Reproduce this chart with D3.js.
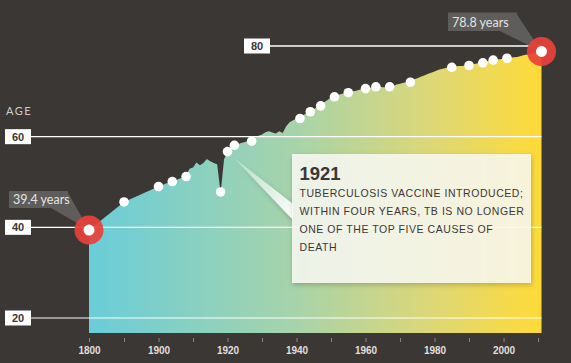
<!DOCTYPE html>
<html><head><meta charset="utf-8">
<script src="https://cdn.jsdelivr.net/npm/d3@7"></script>
<style>html,body{margin:0;padding:0;background:#3b3735;}svg{display:block;}</style>
</head><body>
<svg id="chart" width="571" height="363"></svg>
<script>
// ---- data ----
const lifeYears = [1800,1890,1900,1901,1902,1903,1904,1905,1906,1907,1908,1909,
  1910,1911,1912,1913,1914,1915,1916,1917,1918,1919,
  1920,1921,1922,1923,1924,1925,1926,1927,1928,1929,
  1930,1931,1932,1933,1934,1935,1936,1937,1938,1939,
  1940,1941,1942,1943,1944,1945,1946,1947,1948,1949,
  1950,1951,1952,1953,1954,1955,1956,1957,1958,1959,
  1960,1961,1962,1963,1964,1965,1966,1967,1968,1969,
  1970,1971,1972,1973,1974,1975,1976,1977,1978,1979,
  1980,1981,1982,1983,1984,1985,1986,1987,1988,1989,
  1990,1991,1992,1993,1994,1995,1996,1997,1998,1999,
  2000,2001,2002,2003,2004,2005,2006,2007,2008,2009,
  2010,2011];
const lifeAges = [39.4,45.6,49.0,49.3,49.6,49.9,50.1,50.4,50.7,51.0,51.5,52.9,
  53.2,54.3,53.7,54.2,55.1,54.6,54.2,53.9,47.6,55.0,
  56.7,57.4,58.1,58.3,58.6,58.8,59.0,59.2,59.9,60.2,
  60.5,61.0,61.2,60.9,60.7,61.2,60.8,62.3,63.2,63.6,
  64.0,64.3,64.8,65.2,65.6,66.0,66.6,67.1,67.6,68.1,
  68.7,69.0,69.2,69.4,69.6,69.8,70.0,70.1,70.3,70.5,
  70.6,70.8,70.8,70.9,71.0,70.9,70.9,71.0,71.2,71.5,
  71.7,71.9,72.0,72.3,72.6,72.9,73.2,73.5,73.8,74.1,
  74.4,74.7,74.9,75.1,75.3,75.4,75.5,75.6,75.6,75.7,
  75.8,75.9,76.1,76.3,76.4,76.6,76.8,76.9,77.0,77.1,
  77.2,77.3,77.4,77.5,77.6,77.8,78.0,78.1,78.3,78.5,
  78.7,78.8];

const eventYears = [1890,1900,1904,1908,1918,1920,1922,1927,1941,1944,1947,1951,1955,1960,1963,1967,1973,1985,1990,1994,1997,2001];
const eventAges  = [45.6,49.0,50.1,51.2,47.8,56.7,58.1,59.0,64.0,65.5,66.8,68.8,69.7,70.6,71.0,71.0,72.0,75.3,75.7,76.3,76.9,77.3];

const highlightYears = [1800, 2011];
const highlightAges  = [39.4, 78.8];
const highlightLabels = ["39.4 years", "78.8 years"];

const ageTicks = [20, 40, 60, 80];
const yearTicks = [1800,1890,1900,1910,1920,1930,1940,1950,1960,1970,1980,1990,2000,2010];
const yearLabels = [1800,1900,1920,1940,1960,1980,2000];

const noteTitle = "1921";
const noteLines = ["TUBERCULOSIS VACCINE INTRODUCED;","WITHIN FOUR YEARS, TB IS NO LONGER","ONE OF THE TOP FIVE CAUSES OF","DEATH"];
const noteYear = 1922;
const noteAge = 58.1;

// ---- drawing ----
const svg = d3.select("#chart");
const W = 571, H = 363;
svg.append("rect").attr("width", W).attr("height", H).attr("fill", "#3b3735");

const x = d3.scaleLinear().domain([1800, 1890, 2011]).range([89, 124, 541.5]);
const y = d3.scaleLinear().domain([20, 80]).range([318, 46]);
const baseY = 333;

const defs = svg.append("defs");
const grad = defs.append("linearGradient").attr("id", "g1")
  .attr("gradientUnits", "userSpaceOnUse")
  .attr("x1", x(1800)).attr("x2", x(2011)).attr("y1", 0).attr("y2", 0);
[[0, "#69cdd9"], [0.45, "#a6d3ab"], [0.75, "#dcd778"], [1, "#ffdb38"]].forEach(s =>
  grad.append("stop").attr("offset", s[0]).attr("stop-color", s[1]));

const sh = defs.append("filter").attr("id", "shadow").attr("x", "-20%").attr("y", "-20%").attr("width", "140%").attr("height", "140%");
sh.append("feDropShadow").attr("dx", 1).attr("dy", 2).attr("stdDeviation", 2.5).attr("flood-color", "#000").attr("flood-opacity", 0.25);

const wedgeGrad = defs.append("linearGradient").attr("id", "wg")
  .attr("gradientUnits", "userSpaceOnUse").attr("x1", 234).attr("y1", 160).attr("x2", 292).attr("y2", 212);
wedgeGrad.append("stop").attr("offset", 0).attr("stop-color", "#fff").attr("stop-opacity", 0.3);
wedgeGrad.append("stop").attr("offset", 1).attr("stop-color", "#fff").attr("stop-opacity", 0.95);

const lifeData = lifeYears.map((yr, i) => ({ year: yr, age: lifeAges[i] }));
const area = d3.area().x(d => x(d.year)).y0(baseY).y1(d => y(d.age));
svg.append("path").datum(lifeData).attr("d", area).attr("fill", "url(#g1)");

// gridlines
const gridRight = x(2011);
ageTicks.forEach(v => {
  const left = v === 80 ? 270 : 31;
  svg.append("line").attr("x1", left).attr("x2", gridRight)
    .attr("y1", y(v)).attr("y2", y(v))
    .attr("stroke", "#fff").attr("stroke-width", 1.3)
    .attr("stroke-opacity", v === 20 ? 0.65 : 1);
  const bx = v === 80 ? 244 : 5;
  svg.append("rect").attr("x", bx).attr("y", y(v) - 7.5).attr("width", 26).attr("height", 15).attr("fill", "#fff");
  svg.append("text").attr("x", bx + 13).attr("y", y(v) + 4)
    .attr("text-anchor", "middle").attr("font-family", "Liberation Sans, Arial, sans-serif")
    .attr("font-weight", "bold").attr("font-size", 11).attr("fill", "#3b3735").text(v);
});

svg.append("text").attr("x", 6).attr("y", 115).attr("font-family", "Lato, sans-serif")
  .attr("font-size", 11).attr("letter-spacing", 1.5).attr("fill", "#d0cdca").text("AGE");

// x axis
const axis = d3.axisBottom(x).tickValues(yearTicks).tickSize(4).tickPadding(5)
  .tickFormat(d => yearLabels.includes(d) ? d : "");
const ax = svg.append("g").attr("transform", "translate(0,338)").call(axis);
ax.select(".domain").remove();
ax.selectAll(".tick line").attr("stroke", "#8a8684");
ax.selectAll(".tick text").attr("fill", "#e2dfdc").attr("font-family", "Liberation Sans, Arial, sans-serif")
  .attr("font-weight", "bold").attr("font-size", 10);

// highlight tooltips
const tipBoxes = [{ x0: 9, y0: 191, w: 59, h: 17 }, { x0: 448, y0: 12.5, w: 69, h: 18.5 }];
highlightYears.forEach((yr, i) => {
  const cx = x(yr), cy = y(highlightAges[i]);
  const b = tipBoxes[i];
  svg.append("path").attr("d", d3.line()([[b.x0 + b.w - 17, b.y0 + b.h], [b.x0 + b.w, b.y0 + 2], [cx, cy]]))
    .attr("fill", "#5e5d5c");
  svg.append("rect").attr("x", b.x0).attr("y", b.y0).attr("width", b.w).attr("height", b.h).attr("fill", "#5e5d5c");
  svg.append("text").attr("x", b.x0 + 4).attr("y", b.y0 + b.h - 4.5)
    .attr("font-family", "Lato, sans-serif").attr("font-size", 12.5).attr("fill", "#e6e4e2").text(highlightLabels[i]);
});

// event dots
eventYears.forEach((yr, i) => {
  svg.append("circle").attr("cx", x(yr)).attr("cy", y(eventAges[i])).attr("r", 4.8).attr("fill", "#fff");
});

// highlight circles
highlightYears.forEach((yr, i) => {
  const cx = x(yr), cy = y(highlightAges[i]);
  svg.append("circle").attr("cx", cx).attr("cy", cy).attr("r", 14.5).attr("fill", "#e8423a").attr("fill-opacity", 0.93);
  svg.append("circle").attr("cx", cx).attr("cy", cy).attr("r", 5.5).attr("fill", "#fff");
});

// annotation
const nb = { x0: 292, y0: 154, w: 239, h: 129 };
svg.append("path").attr("d", d3.line()([[x(noteYear), y(noteAge) + 13], [nb.x0 + 1, nb.y0 + 50], [nb.x0 + 1, nb.y0 + 66]]))
  .attr("fill", "url(#wg)").attr("filter", "url(#shadow)");
svg.append("rect").attr("x", nb.x0).attr("y", nb.y0).attr("width", nb.w).attr("height", nb.h)
  .attr("fill", "#fbfbf6").attr("fill-opacity", 0.84).attr("filter", "url(#shadow)");
svg.append("text").attr("x", nb.x0 + 7.5).attr("y", nb.y0 + 26)
  .attr("font-family", "Liberation Sans, Arial, sans-serif").attr("font-weight", "bold")
  .attr("font-size", 18.5).attr("fill", "#3b3735").text(noteTitle);
noteLines.forEach((t, i) => {
  svg.append("text").attr("x", nb.x0 + 7.5).attr("y", nb.y0 + 43 + i * 18)
    .attr("font-family", "Liberation Sans, Arial, sans-serif").attr("font-size", 10.5)
    .attr("letter-spacing", 0.55).attr("fill", "#3b3735").text(t);
});
</script>
</body></html>
